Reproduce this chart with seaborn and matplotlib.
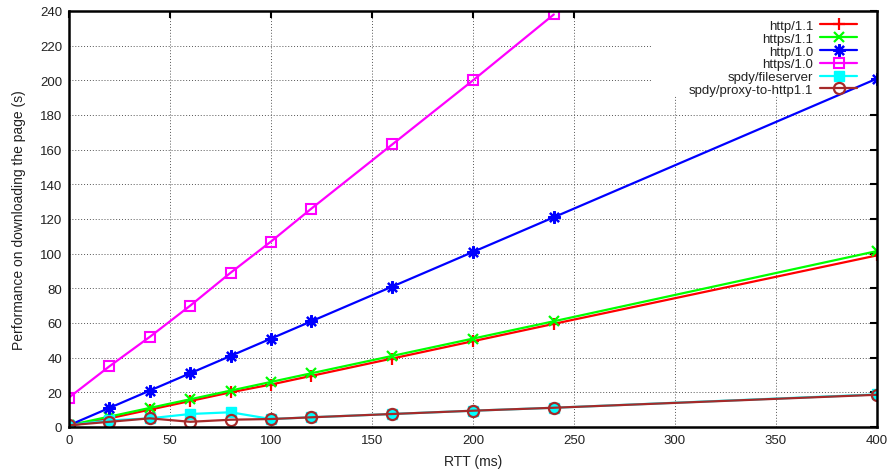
import matplotlib
matplotlib.use("Agg")
import matplotlib.pyplot as plt
import matplotlib.patches as mpatches
import seaborn as sns
import numpy as np

# RTT values (ms) at which each configuration was measured
rtt = [0, 20, 40, 60, 80, 100, 120, 160, 200, 240, 400]

http11 = [0.5, 5, 10, 15, 20, 24.5, 29.5, 39.5, 49.5, 59.5, 99]
https11 = [1, 6, 11, 16, 21, 26, 31, 41, 51, 61, 101.5]
http10 = [1, 11, 21, 31, 41, 51, 61, 81, 101, 121, 201]
https10 = [17, 35, 52, 70, 89, 107, 126, 163, 200, 238, np.nan]
spdy_file = [1, 3.8, 5, 7.5, 8.5, 4.6, 5.6, 7.5, 9.4, 11.1, 18.8]
spdy_proxy = [1, 3, 5, 3, 4.2, 4.6, 5.6, 7.5, 9.4, 11.1, 18.6]

labels = ["http/1.1", "https/1.1", "http/1.0", "https/1.0",
          "spdy/fileserver", "spdy/proxy-to-http1.1"]

sns.set_theme(style="white")
plt.rcParams["font.family"] = ["Liberation Sans", "DejaVu Sans"]

fig = plt.figure(figsize=(8.92, 4.77), dpi=100)
ax = fig.add_axes([69 / 892, 1 - 428 / 477, 808 / 892, 416 / 477])

series = [http11, https11, http10, https10, spdy_file, spdy_proxy]
styles = [
    dict(color="#ff0000", marker="+", ms=8.5, mew=1.6, mfc="#ff0000"),
    dict(color="#00ff00", marker="x", ms=7, mew=1.6, mfc="#00ff00"),
    dict(color="#0000ff", marker=(8, 2, 0), ms=9, mew=1.6, mfc="#0000ff"),
    dict(color="#ff00ff", marker="s", ms=7.5, mew=1.5, mfc="none"),
    dict(color="#00ffff", marker="s", ms=6.5, mew=1.0, mfc="#00ffff"),
    dict(color="#a52a2a", marker="o", ms=8, mew=1.6, mfc="none"),
]

for vals, lab, st in zip(series, labels, styles):
    sns.lineplot(x=rtt, y=vals, ax=ax, label=lab, lw=1.6,
                 markeredgecolor=st["color"], zorder=3, **st)

ax.set_xlim(0, 400)
ax.set_ylim(0, 240)
ax.set_xticks(range(0, 401, 50))
ax.set_yticks(range(0, 241, 20))
ax.tick_params(direction="in", length=5, width=1.5, colors="black",
               labelcolor="#222222", labelsize=9.5, top=True, right=True,
               pad=5)
for sp in ax.spines.values():
    sp.set_linewidth(1.8)
    sp.set_color("black")
    sp.set_zorder(4)

ax.set_axisbelow(True)
ax.grid(True, color="#555555", linestyle=(0, (1, 2)), linewidth=0.7)

# white area behind the key, covering the grid but not the data lines
ax.add_patch(mpatches.Rectangle((0.7215, 0.7957), 0.2785, 0.2043,
                                transform=ax.transAxes, facecolor="white",
                                edgecolor="none", zorder=1.5))

ax.set_xlabel("RTT (ms)", fontsize=10, color="#222222", labelpad=6)
ax.set_ylabel("Performance on downloading the page (s)", fontsize=10,
              color="#222222", labelpad=10)

leg = ax.legend(loc="upper right", bbox_to_anchor=(0.979, 0.985),
                frameon=False, markerfirst=False, fontsize=9.5,
                handlelength=2.8, handletextpad=0.55, labelspacing=0.04,
                borderaxespad=0, borderpad=0.2)
for t in leg.get_texts():
    t.set_color("#222222")

fig.savefig("out.png", dpi=100)
